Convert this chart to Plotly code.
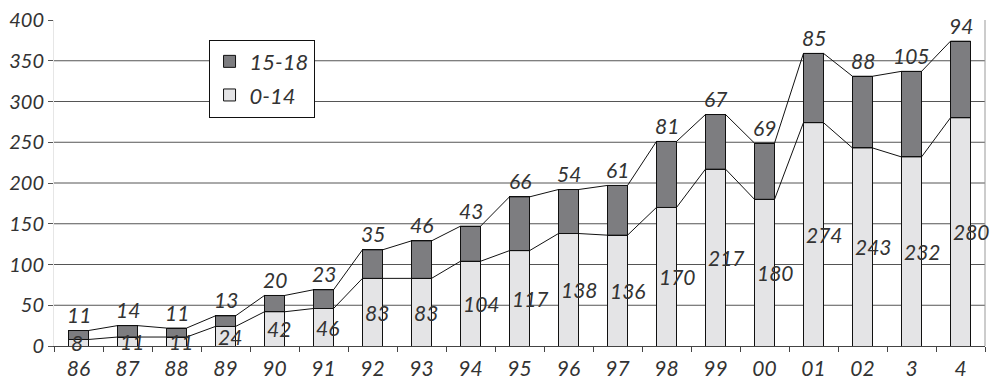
import plotly.graph_objects as go

# Year labels and the two age-group series (stacked)
years = ["86", "87", "88", "89", "90", "91", "92", "93", "94", "95",
         "96", "97", "98", "99", "00", "01", "02", "3", "4"]
age_0_14 = [8, 11, 11, 24, 42, 46, 83, 83, 104, 117,
            138, 136, 170, 217, 180, 274, 243, 232, 280]
age_15_18 = [11, 14, 11, 13, 20, 23, 35, 46, 43, 66,
             54, 61, 81, 67, 69, 85, 88, 105, 94]
y_ticks = [0, 50, 100, 150, 200, 250, 300, 350, 400]
grid_levels = [50, 100, 150, 200, 250, 300, 350]

BAR_W = 0.41
LIGHT = "#e4e4e6"
DARK = "#7d7d80"
TEXT = "#333333"
FONT = "Lato"

xs = list(range(len(years)))
totals = [a + b for a, b in zip(age_0_14, age_15_18)]

fig = go.Figure()
fig.add_trace(go.Bar(x=xs, y=age_0_14, name="0-14", width=BAR_W,
                     legendgroup="young", legendrank=2,
                     marker=dict(color=LIGHT, line=dict(color="#111", width=1))))
fig.add_trace(go.Bar(x=xs, y=age_15_18, name="15-18", width=BAR_W,
                     legendgroup="teen", legendrank=1,
                     marker=dict(color=DARK, line=dict(color="#111", width=1))))


def series_line(values):
    # connect each bar's top corners to the next bar's
    lx, ly = [], []
    for i, v in zip(xs, values):
        lx += [i - BAR_W / 2, i + BAR_W / 2]
        ly += [v, v]
    return lx, ly


for vals in (age_0_14, totals):
    lx, ly = series_line(vals)
    fig.add_trace(go.Scatter(x=lx, y=ly, mode="lines", showlegend=False,
                             hoverinfo="skip",
                             line=dict(color="#111", width=1)))

label_font = dict(size=21, color=TEXT, family=FONT, style="italic")
annotations = []
for i, (a, t, b) in enumerate(zip(age_0_14, totals, age_15_18)):
    annotations.append(dict(x=i - BAR_W / 2, y=a / 2, text=str(a),
                            xanchor="left", yanchor="middle", xshift=1,
                            showarrow=False, font=label_font))
    annotations.append(dict(x=i, y=t, text=str(b), xanchor="center",
                            yanchor="middle", yshift=16, showarrow=False,
                            font=label_font))

shapes = [dict(type="line", xref="paper", x0=0, x1=1, yref="y", y0=g, y1=g,
               line=dict(color="#555", width=1), layer="below")
          for g in grid_levels]
shapes.append(dict(type="line", xref="paper", x0=1, x1=1, yref="paper", y0=0, y1=1,
                   line=dict(color="#999", width=1)))

fig.update_layout(
    width=993, height=382,
    margin=dict(l=54, r=8, t=20, b=36),
    barmode="stack",
    plot_bgcolor="white", paper_bgcolor="white",
    font=dict(family=FONT, color=TEXT, style="italic"),
    legend=dict(x=0.166, y=0.94, xanchor="left", yanchor="top",
                bordercolor="#111", borderwidth=1, bgcolor="white",
                traceorder="grouped", tracegroupgap=2,
                itemwidth=30,
                font=dict(size=22, family=FONT, color=TEXT, style="italic")),
    annotations=annotations,
    shapes=shapes,
)
fig.update_xaxes(range=[-0.5, len(years) - 0.5], tickmode="array",
                 tickvals=xs, ticktext=years, ticks="",
                 tickfont=dict(size=21, family=FONT, color=TEXT, style="italic"),
                 ticklabelstandoff=4, automargin=False,
                 showgrid=False, zeroline=False,
                 showline=True, linecolor="#444", linewidth=1,
                 minor=dict(ticks="outside", tick0=-0.5, dtick=1, ticklen=5,
                            tickcolor="#444", showgrid=False))
fig.update_yaxes(range=[0, 400], tickmode="array", tickvals=y_ticks,
                 ticks="outside", ticklen=5, tickcolor="#555",
                 tickfont=dict(size=20, family=FONT, color=TEXT, style="italic"),
                 automargin=False,
                 showgrid=False, zeroline=False,
                 showline=True, linecolor="#e6e6e6", linewidth=1)

fig.write_html("out.html")
